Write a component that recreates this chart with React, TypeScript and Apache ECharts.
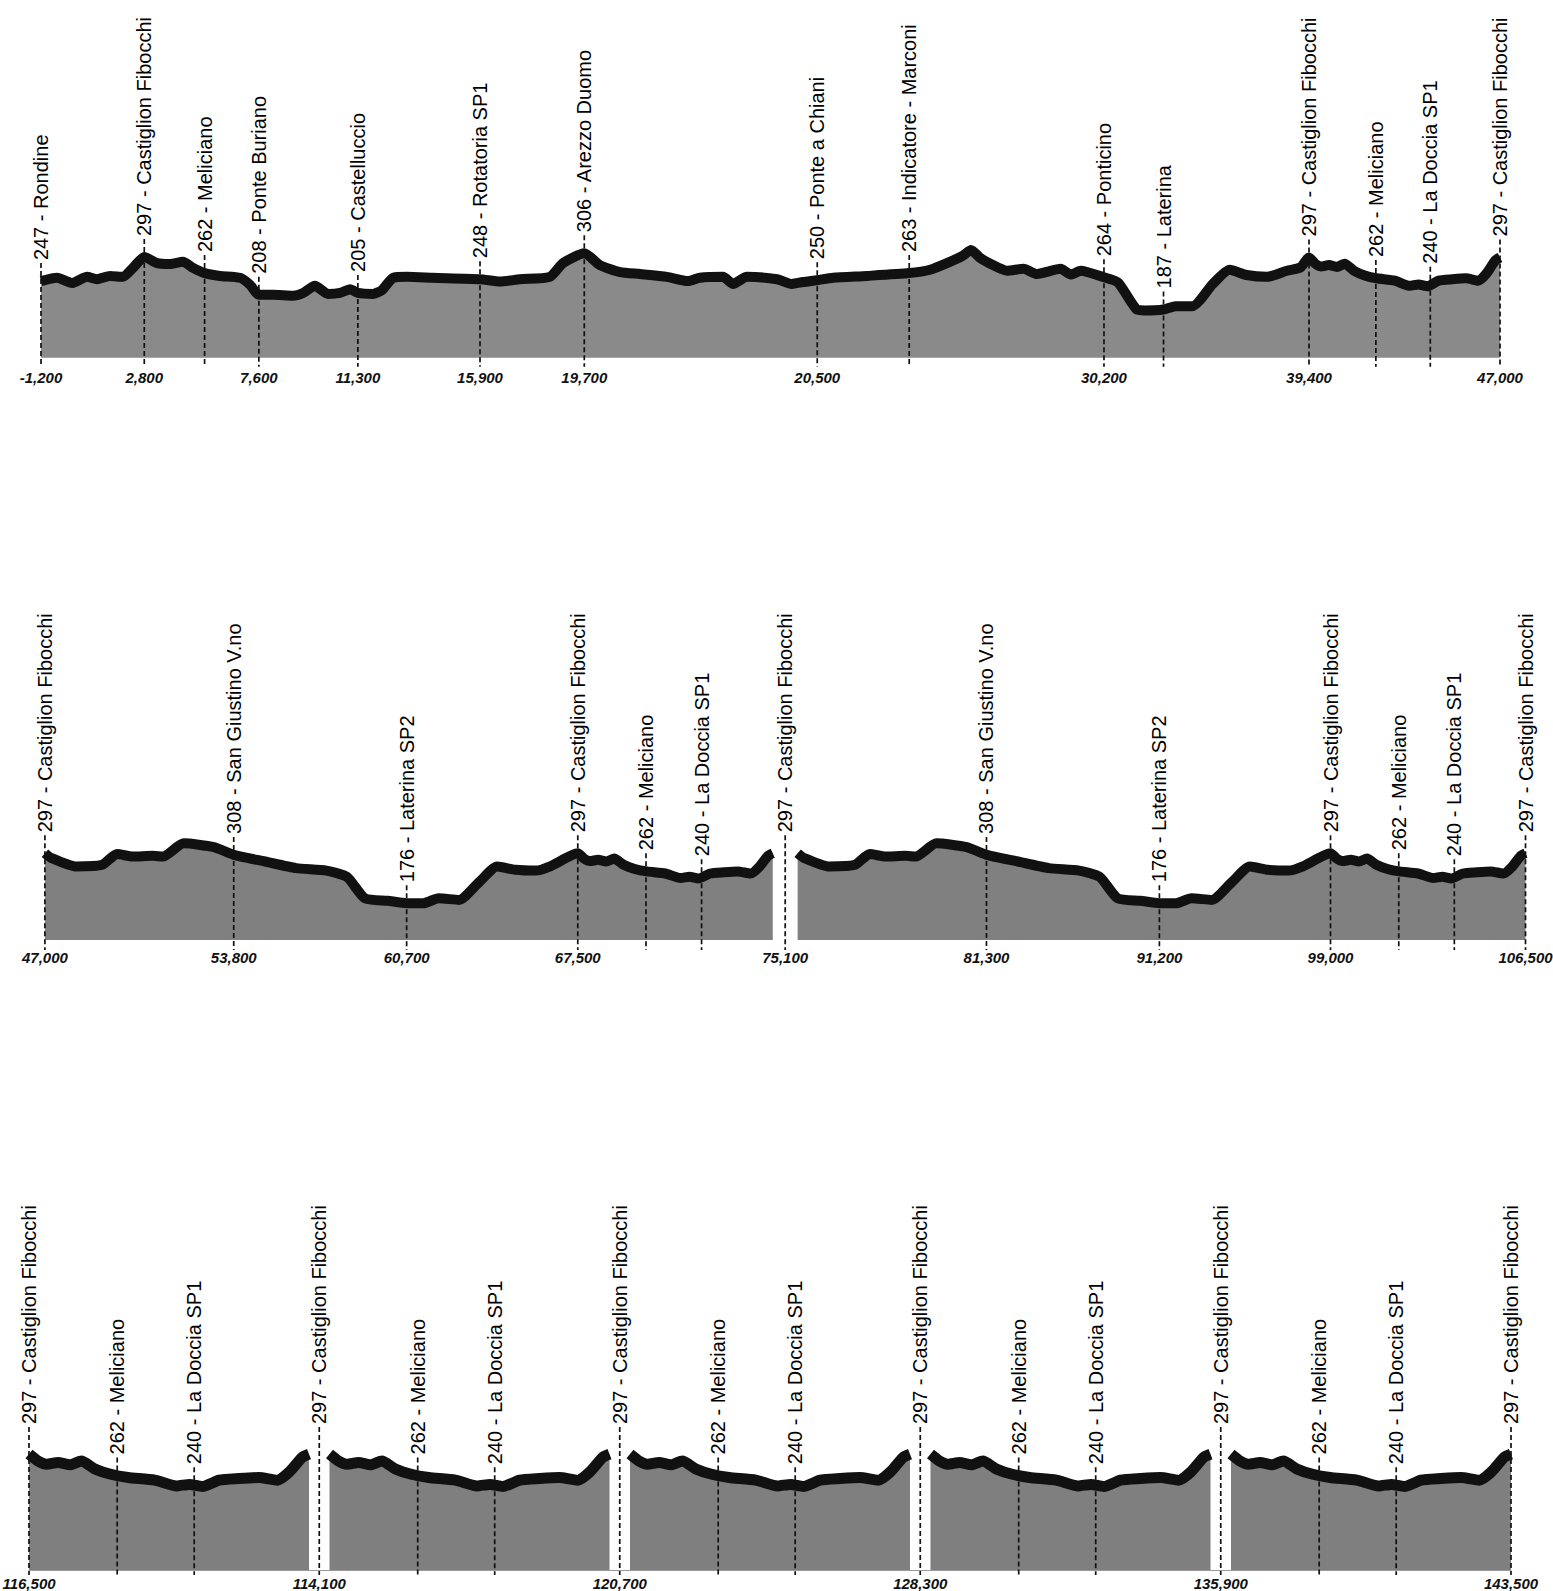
import React, { useEffect, useRef } from 'react';
import * as echarts from 'echarts';

// ---------- data ----------
const LAP_KM = 7.6;
// one lap Castiglion Fibocchi -> Meliciano -> La Doccia SP1 -> Castiglion Fibocchi
const lapFrac = [0, 0.032, 0.062, 0.104, 0.146, 0.187, 0.235, 0.292, 0.354, 0.449, 0.527, 0.573, 0.619, 0.679, 0.75, 0.821, 0.887, 0.929, 0.976, 1];
const lapElev = [297, 284, 278, 281, 277, 284, 269, 259, 253, 248, 237, 240, 236, 248, 251, 253, 248, 263, 291, 297];
const lapStops = ['Castiglion Fibocchi', 'Meliciano', 'La Doccia SP1'];
const lapStopHeights = [297, 262, 240];
const lapStopFracUpper = [0, 0.35, 0.635];
const lapStopFracLower = [0, 0.315, 0.59];

// opening stage Rondine -> Castiglion Fibocchi (row 1)
const openingKm = [0, 0.64, 1.23, 1.83, 2.23, 2.75, 3.26, 3.66, 4.11, 4.62, 5.13, 5.65, 6.05, 6.51, 7.12, 7.92, 8.32, 8.67, 9.23, 10.03, 10.43, 10.9, 11.42, 11.9, 12.3, 12.61, 13.21, 13.57, 14.01, 14.56, 15.6, 17.47, 18.27, 19.06, 20.25, 20.77, 21.62, 22.24, 23.04, 23.84, 24.91, 25.75, 26.22, 27.14, 27.54, 28.09, 29.29, 29.88, 30.32, 30.89, 31.52, 32.87, 34.55, 35.38, 36.05, 36.69, 37.01, 37.37, 37.88, 38.44, 39.1, 39.63, 40.58, 40.98, 41.38, 42.3, 42.86, 43.6, 43.93, 44.67, 45.15, 45.82, 46.63, 47.3, 47.97, 48.78, 49.58, 50.12, 50.46];
const openingElev = [247, 254, 243, 256, 251, 258, 256, 275, 298, 285, 283, 288, 275, 264, 258, 254, 239, 218, 218, 216, 222, 237, 220, 222, 230, 222, 220, 228, 254, 256, 254, 251, 246, 251, 256, 285, 306, 281, 266, 262, 256, 247, 254, 256, 241, 256, 251, 241, 245, 249, 254, 258, 264, 271, 285, 301, 313, 296, 281, 269, 273, 262, 273, 261, 269, 255, 244, 187, 185, 187, 194, 194, 241, 271, 260, 256, 269, 276, 297];
const openingStops = ['Rondine', 'Castiglion Fibocchi', 'Meliciano', 'Ponte Buriano', 'Castelluccio', 'Rotatoria SP1', 'Arezzo Duomo', 'Ponte a Chiani', 'Indicatore - Marconi', 'Ponticino', 'Laterina'];
const openingStopHeights = [247, 297, 262, 208, 205, 248, 306, 250, 263, 264, 187];
const openingStopKm = [0, 4.11, 6.51, 8.67, 12.61, 17.47, 21.62, 30.89, 34.55, 42.3, 44.67];
const openingStopTicks = ['-1,200', '2,800', '', '7,600', '11,300', '15,900', '19,700', '20,500', '', '30,200', ''];
const row1LapTicks = ['39,400', '', ''];
const row1EndTick = '47,000';

// long loop Castiglion Fibocchi -> San Giustino V.no -> Laterina SP2 -> Castiglion Fibocchi (row 2)
const loopKm = [0, 0.24, 1.23, 2.23, 2.81, 3.42, 4.21, 4.6, 5.41, 6.59, 7.36, 8.58, 9.79, 10.97, 11.77, 12.47, 13.36, 14.1, 14.75, 15.35, 16.14, 16.94, 17.63, 18.33, 19.13, 19.72, 20.77];
const loopElev = [297, 286, 265, 269, 295, 289, 291, 289, 321, 312, 293, 277, 261, 255, 240, 188, 182, 176, 176, 188, 184, 228, 265, 257, 255, 266, 297];
const loopStops = ['Castiglion Fibocchi', 'San Giustino V.no', 'Laterina SP2'];
const loopStopHeights = [297, 308, 176];
const loopStopKm = [0, 7.36, 14.1];
const row2BoundaryTicks = ['47,000', '75,100', '106,500'];
const row2InnerTicks = [
  ['53,800', '60,700', '67,500', '', ''],
  ['81,300', '91,200', '99,000', '', ''],
];
const row3BoundaryTicks = ['116,500', '114,100', '120,700', '128,300', '135,900', '143,500'];

// ---------- layout ----------
const FONT = "'Liberation Sans', Arial, sans-serif";
const TICK_FONT = "'Liberation Sans Narrow', 'Arial Narrow', 'Liberation Sans', sans-serif";
const ROW2_GAP_KM = 0.97;
const ROW3_GAP_KM = 0.556;

type Pt = [number, number];
type Marker = { km: number; y: number; text: string; tick: string; lift: number };

const lapPoints = (start: number): Pt[] => lapFrac.map((f, i) => [start + f * LAP_KM, lapElev[i]] as Pt);

function interp(pts: Pt[], km: number): number {
  for (let i = 1; i < pts.length; i++) {
    if (km <= pts[i][0] + 1e-9) {
      const [x0, y0] = pts[i - 1];
      const [x1, y1] = pts[i];
      const t = x1 === x0 ? 0 : (km - x0) / (x1 - x0);
      return y0 + (y1 - y0) * Math.max(0, Math.min(1, t));
    }
  }
  return pts[pts.length - 1][1];
}

const label = (h: number, n: string) => `${h} - ${n}`;

function buildRow1() {
  const openEnd = openingKm[openingKm.length - 1];
  const pts: Pt[] = openingKm.slice(0, -1).map((k, i) => [k, openingElev[i]] as Pt).concat(lapPoints(openEnd));
  const markers: Marker[] = [];
  openingStops.forEach((n, i) => {
    markers.push({ km: openingStopKm[i], y: interp(pts, openingStopKm[i]), text: label(openingStopHeights[i], n), tick: openingStopTicks[i], lift: 21 });
  });
  lapStops.forEach((n, i) => {
    const km = openEnd + lapStopFracUpper[i] * LAP_KM;
    markers.push({ km, y: interp(pts, km), text: label(lapStopHeights[i], n), tick: row1LapTicks[i], lift: 21 });
  });
  const endKm = openEnd + LAP_KM;
  markers.push({ km: endKm, y: interp(pts, endKm), text: label(lapStopHeights[0], lapStops[0]), tick: row1EndTick, lift: 21 });
  return { panels: [pts], markers, xMax: endKm };
}

function buildRow2() {
  const loopLen = loopKm[loopKm.length - 1];
  const panelLen = loopLen + LAP_KM;
  const panels: Pt[][] = [];
  const markers: Marker[] = [];
  for (let p = 0; p < 2; p++) {
    const s = p * (panelLen + ROW2_GAP_KM);
    const pts: Pt[] = loopKm.map((k, i) => [s + k, loopElev[i]] as Pt).concat(lapPoints(s + loopLen).slice(1));
    panels.push(pts);
    const inner: { km: number; text: string }[] = [];
    for (let i = 1; i < loopStops.length; i++) inner.push({ km: s + loopStopKm[i], text: label(loopStopHeights[i], loopStops[i]) });
    for (let i = 0; i < lapStops.length; i++) inner.push({ km: s + loopLen + lapStopFracUpper[i] * LAP_KM, text: label(lapStopHeights[i], lapStops[i]) });
    inner.forEach((m, j) => markers.push({ km: m.km, y: interp(pts, m.km), text: m.text, tick: row2InnerTicks[p][j], lift: 21 }));
  }
  const xMax = 2 * panelLen + ROW2_GAP_KM;
  const bounds = [0, panelLen + ROW2_GAP_KM / 2, xMax];
  bounds.forEach((km, i) => markers.push({ km, y: lapElev[lapElev.length - 1], text: label(lapStopHeights[0], lapStops[0]), tick: row2BoundaryTicks[i], lift: 21 }));
  return { panels, markers, xMax };
}

function buildRow3() {
  const panels: Pt[][] = [];
  const markers: Marker[] = [];
  const n = 5;
  for (let k = 0; k < n; k++) {
    const s = k * (LAP_KM + ROW3_GAP_KM);
    const pts = lapPoints(s);
    panels.push(pts);
    for (let i = 1; i < lapStops.length; i++) {
      const km = s + lapStopFracLower[i] * LAP_KM;
      markers.push({ km, y: interp(pts, km), text: label(lapStopHeights[i], lapStops[i]), tick: '', lift: 21 });
    }
  }
  const xMax = n * LAP_KM + (n - 1) * ROW3_GAP_KM;
  for (let b = 0; b <= n; b++) {
    const km = b === 0 ? 0 : b === n ? xMax : b * (LAP_KM + ROW3_GAP_KM) - ROW3_GAP_KM / 2;
    markers.push({ km, y: lapElev[lapElev.length - 1], text: label(lapStopHeights[0], lapStops[0]), tick: row3BoundaryTicks[b], lift: 30 });
  }
  return { panels, markers, xMax };
}

const rowCfg = [
  { left: 41, top: 208.8, width: 1459, height: 148.9, yMin: 85, yMax: 400, lineW: 10, fill: '#8a8a8a', labelMargin: 12, dashExt: 9, axisLine: false },
  { left: 44.9, top: 810.7, width: 1480.6, height: 129.3, yMin: 87, yMax: 400, lineW: 10, fill: '#808080', labelMargin: 10, dashExt: 10, axisLine: false },
  { left: 29, top: 1399.3, width: 1482, height: 170.7, yMin: 79, yMax: 400, lineW: 11, fill: '#7f7f7f', labelMargin: 6, dashExt: 5, axisLine: true },
];

function buildOption() {
  const rows = [buildRow1(), buildRow2(), buildRow3()];
  const grid: any[] = [];
  const xAxis: any[] = [];
  const yAxis: any[] = [];
  const series: any[] = [];
  rows.forEach((row, r) => {
    const c = rowCfg[r];
    grid.push({ left: c.left, top: c.top, width: c.width, height: c.height, containLabel: false, outerBoundsMode: 'none' });
    const ticks = row.markers.filter((m) => m.tick !== '');
    xAxis.push({
      type: 'value', gridIndex: r, min: 0, max: row.xMax,
      axisLine: { show: c.axisLine, lineStyle: { color: '#9a9a9a', width: 1 } },
      axisTick: { show: false },
      splitLine: { show: false },
      axisLabel: {
        customValues: ticks.map((m) => m.km),
        showMinLabel: true, showMaxLabel: true,
        margin: c.labelMargin,
        fontSize: 15, fontWeight: 'bold', fontStyle: 'italic', fontFamily: TICK_FONT, color: '#111',
        formatter: (v: number) => {
          const t = ticks.find((m) => Math.abs(m.km - v) < 1e-6);
          return t ? t.tick : '';
        },
      },
    });
    yAxis.push({ type: 'value', gridIndex: r, min: c.yMin, max: c.yMax, show: false, splitLine: { show: false } });
    row.panels.forEach((pts) => {
      series.push({
        type: 'line', xAxisIndex: r, yAxisIndex: r, data: pts, symbol: 'none', showSymbol: false, silent: true, z: 2,
        smooth: 0.2,
        lineStyle: { color: '#111', width: c.lineW, join: 'round', cap: 'butt' },
        areaStyle: { color: c.fill, opacity: 1, origin: 'start' },
      });
    });
    series.push({
      type: 'custom', xAxisIndex: r, yAxisIndex: r, silent: true, z: 5, clip: false,
      data: row.markers.map((m) => [m.km, m.y]),
      renderItem: (params: any, api: any) => {
        const m = row.markers[params.dataIndex];
        const p = api.coord([m.km, m.y]);
        const base = api.coord([m.km, c.yMin])[1];
        const ty = p[1] - m.lift;
        return {
          type: 'group',
          children: [
            { type: 'line', shape: { x1: p[0], y1: ty + 3, x2: p[0], y2: base + c.dashExt }, style: { stroke: '#111', lineWidth: 1.7, lineDash: [5, 3] } },
            { type: 'text', x: p[0], y: ty, rotation: Math.PI / 2, style: { text: m.text, fill: '#000', fontSize: 20, fontFamily: FONT, align: 'left', verticalAlign: 'middle' } },
          ],
        };
      },
    });
  });
  return { animation: false, backgroundColor: '#ffffff', grid, xAxis, yAxis, series };
}

export default function App() {
  const ref = useRef<HTMLDivElement>(null);
  useEffect(() => {
    document.body.style.margin = '0';
    document.body.style.overflow = 'hidden';
    const chart = echarts.init(ref.current as HTMLDivElement, undefined, { renderer: 'svg', width: 1553, height: 1591 });
    chart.setOption(buildOption() as any);
    return () => chart.dispose();
  }, []);
  return <div ref={ref} style={{ position: 'absolute', left: 0, top: 0, width: 1553, height: 1591, background: '#fff' }} />;
}
